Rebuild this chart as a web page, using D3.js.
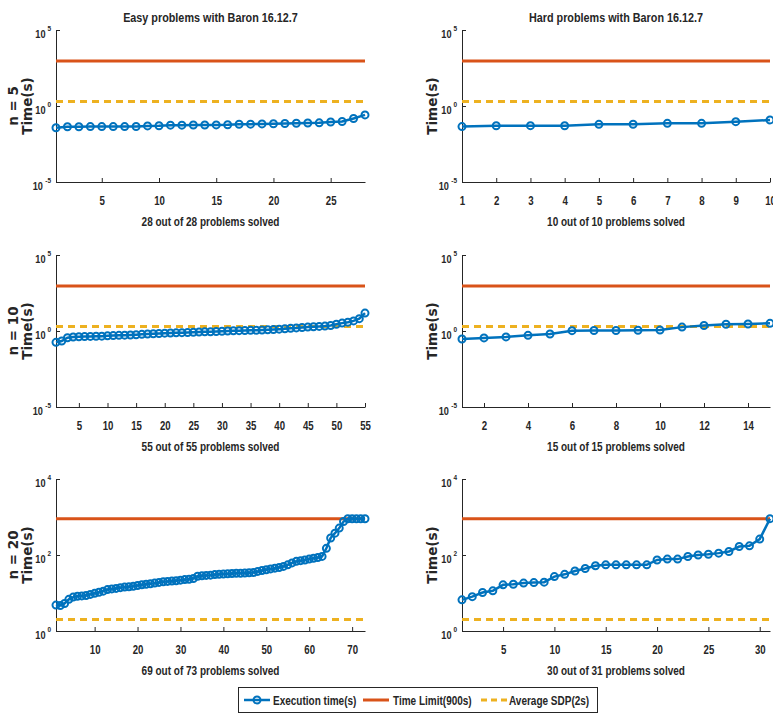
<!DOCTYPE html>
<html>
<head>
<meta charset="utf-8">
<script src="https://cdn.jsdelivr.net/npm/d3@7"></script>
<style>
  body { margin: 0; background: #fff; }
  svg { display: block; }
  .narrow { font-family: 'Liberation Sans Narrow', 'Arial Narrow', 'Liberation Sans', sans-serif; font-weight: bold; fill: #262626; }
  .ylab { font-family: 'DejaVu Sans', Verdana, sans-serif; font-weight: bold; font-size: 13.5px; fill: #262626; }
  .axis path, .axis line { stroke: #262626; stroke-width: 1; }
</style>
</head>
<body>
<div id="chart"></div>
<script>
const width = 773;
const height = 720;

// execution times in seconds
const easy5 = [0.037, 0.043, 0.043, 0.044, 0.044, 0.044, 0.044, 0.045, 0.049, 0.050,
  0.055, 0.055, 0.056, 0.056, 0.057, 0.058, 0.063, 0.064, 0.066, 0.068,
  0.070, 0.073, 0.076, 0.078, 0.088, 0.095, 0.15, 0.26];
const hard5 = [0.044, 0.050, 0.051, 0.050, 0.062, 0.063, 0.072, 0.072, 0.093, 0.12];
const easy10 = [0.18, 0.22, 0.36, 0.40, 0.42, 0.43, 0.44, 0.45, 0.46, 0.48,
  0.50, 0.52, 0.53, 0.55, 0.57, 0.60, 0.63, 0.66, 0.69, 0.72,
  0.74, 0.76, 0.78, 0.80, 0.83, 0.86, 0.88, 0.90, 0.93, 0.96,
  1.00, 1.03, 1.05, 1.07, 1.10, 1.13, 1.16, 1.20, 1.25, 1.32,
  1.40, 1.50, 1.60, 1.70, 1.80, 1.90, 2.00, 2.10, 2.30, 2.8,
  3.3, 3.8, 4.6, 6.5, 15];
const hard10 = [0.30, 0.35, 0.41, 0.52, 0.63, 1.05, 1.07, 1.08, 1.12, 1.15,
  1.8, 2.3, 2.8, 2.9, 3.2];
const easy20 = [4.8, 4.7, 5.3, 6.8, 7.8, 8.2, 8.4, 8.6, 9.2, 9.8,
  10.5, 11.2, 12.3, 12.8, 13.2, 13.8, 14.3, 14.6, 15.0, 15.8,
  16.5, 17.0, 17.5, 18.2, 19.0, 19.8, 20.2, 20.6, 21.0, 21.8,
  22.5, 23.0, 24.0, 27.5, 28.5, 29.0, 29.5, 30.5, 31.0, 31.5,
  32.0, 32.5, 33.0, 33.2, 33.5, 34.0, 34.5, 37.0, 39.0, 41.0,
  43.0, 45.0, 47.0, 50.0, 55.0, 62.0, 68.0, 71.0, 74.0, 78.0,
  82.0, 86.0, 92.0, 150, 280, 375, 510, 760, 900, 900,
  900, 900, 900];
const hard20 = [6.6, 8.0, 10.3, 11.4, 16.4, 17.0, 18.2, 18.8, 19.3, 27,
  31, 38, 44, 52, 55, 55, 55, 55, 55, 74,
  78, 78, 91, 100, 105, 112, 124, 167, 174, 262,
  900];

const timeLimit = 900;
const avgSDP = 2;

const colTitles = ['Easy problems with Baron 16.12.7', 'Hard problems with Baron 16.12.7'];
const rowLabels = ['n = 5', 'n = 10', 'n = 20'];
const solvedLabels = [
  ['28 out of 28 problems solved', '10 out of 10 problems solved'],
  ['55 out of 55 problems solved', '15 out of 15 problems solved'],
  ['69 out of 73 problems solved', '30 out of 31 problems solved']
];
const series = [[easy5, hard5], [easy10, hard10], [easy20, hard20]];
const xTicks = [
  [[5, 10, 15, 20, 25], [1, 2, 3, 4, 5, 6, 7, 8, 9, 10]],
  [[5, 10, 15, 20, 25, 30, 35, 40, 45, 50, 55], [2, 4, 6, 8, 10, 12, 14]],
  [[10, 20, 30, 40, 50, 60, 70], [5, 10, 15, 20, 25, 30]]
];
// y tick exponents per row
const yExps = [[-5, 0, 5], [-5, 0, 5], [0, 2, 4]];
const legendLabels = ['Execution time(s)', 'Time Limit(900s)', 'Average SDP(2s)'];

const blue = '#0072BD', red = '#D95319', yellow = '#EDB120';
const squeeze = 0.8;

const colX = [[56, 365], [462, 770]];
const rowY = [[30, 182], [255, 407], [479, 631]];

const svg = d3.select('#chart').append('svg')
  .attr('width', width).attr('height', height);

// no narrow font installed: squeeze the regular one to a condensed width
function narrowText(sel) {
  sel.each(function () {
    const w = this.getComputedTextLength();
    this.setAttribute('textLength', (w * squeeze).toFixed(1));
    this.setAttribute('lengthAdjust', 'spacingAndGlyphs');
  });
  return sel;
}

function drawPanel(r, c) {
  const values = series[r][c];
  const n = values.length;
  const [x0, x1] = colX[c];
  const [y0, y1] = rowY[r];
  const exps = yExps[r];

  const x = d3.scaleLinear().domain([1, n]).range([x0, x1]);
  const y = d3.scaleLog()
    .domain([Math.pow(10, exps[0]), Math.pow(10, exps[exps.length - 1])])
    .range([y1, y0]);

  const g = svg.append('g');

  // x axis, ticks pointing inward
  const xa = g.append('g').attr('class', 'axis')
    .attr('transform', `translate(0,${y1})`)
    .call(d3.axisBottom(x).tickValues(xTicks[r][c]).tickSize(-4).tickSizeOuter(0).tickPadding(14));
  xa.selectAll('.tick text').attr('class', 'narrow').style('font-size', '12px').attr('fill', '#262626');

  // y axis with 10^k labels
  const ya = g.append('g').attr('class', 'axis')
    .attr('transform', `translate(${x0},0)`)
    .call(d3.axisLeft(y).tickValues(exps.map(e => Math.pow(10, e))).tickSize(-4).tickSizeOuter(0).tickFormat(() => ''));
  ya.selectAll('.tick text').remove();
  exps.forEach(e => {
    const ty = y(Math.pow(10, e));
    const sup = g.append('text').attr('class', 'narrow')
      .attr('x', x0 - 5).attr('y', ty + 1)
      .attr('text-anchor', 'end')
      .style('font-size', '8px')
      .text(e);
    const sw = sup.node().getComputedTextLength();
    narrowText(sup);
    g.append('text').attr('class', 'narrow')
      .attr('x', x0 - 6 - sw).attr('y', ty + 8)
      .attr('text-anchor', 'end')
      .style('font-size', '11.5px')
      .text('10');
  });

  const line = d3.line().x((d, i) => x(i + 1)).y(d => y(d));

  g.append('line')
    .attr('x1', x(1)).attr('x2', x(n))
    .attr('y1', y(timeLimit)).attr('y2', y(timeLimit))
    .attr('stroke', red).attr('stroke-width', 3);
  g.append('line')
    .attr('x1', x(1)).attr('x2', x(n))
    .attr('y1', y(avgSDP)).attr('y2', y(avgSDP))
    .attr('stroke', yellow).attr('stroke-width', 3)
    .attr('stroke-dasharray', '7,5');

  g.append('path').datum(values)
    .attr('d', line)
    .attr('fill', 'none').attr('stroke', blue).attr('stroke-width', 2.5);
  g.selectAll('circle.pt').data(values).join('circle')
    .attr('class', 'pt')
    .attr('cx', (d, i) => x(i + 1)).attr('cy', d => y(d))
    .attr('r', 3.5)
    .attr('fill', 'none').attr('stroke', blue).attr('stroke-width', 2);

  const xc = (x0 + x1) / 2;
  g.append('text').attr('class', 'narrow')
    .attr('x', xc).attr('y', y1 + 44)
    .attr('text-anchor', 'middle').style('font-size', '12.5px')
    .text(solvedLabels[r][c]);

  if (r === 0) {
    g.append('text').attr('class', 'narrow')
      .attr('x', xc).attr('y', 22)
      .attr('text-anchor', 'middle').style('font-size', '13.5px')
      .text(colTitles[c]);
  }

  const yc = (y0 + y1) / 2;
  const lx = c === 0 ? 32 : 437;
  g.append('text').attr('class', 'ylab')
    .attr('transform', `translate(${lx},${yc}) rotate(-90)`)
    .attr('text-anchor', 'middle')
    .text('Time(s)');
  if (c === 0) {
    g.append('text').attr('class', 'ylab')
      .attr('transform', `translate(${lx - 14},${yc}) rotate(-90)`)
      .attr('text-anchor', 'middle')
      .text(rowLabels[r]);
  }
}

for (let r = 0; r < 3; r++) {
  for (let c = 0; c < 2; c++) drawPanel(r, c);
}

// legend
const lg = svg.append('g');
lg.append('rect')
  .attr('x', 238.5).attr('y', 687.5).attr('width', 359).attr('height', 25)
  .attr('fill', '#fff').attr('stroke', '#262626').attr('stroke-width', 1);
const ly = 700;
const items = [
  { x: 244, tx: 273, color: blue, dash: null, marker: true },
  { x: 363, tx: 393, color: red, dash: null, marker: false },
  { x: 481, tx: 509, color: yellow, dash: '6,4', marker: false }
];
items.forEach((it, i) => {
  lg.append('line')
    .attr('x1', it.x).attr('x2', it.x + 26)
    .attr('y1', ly).attr('y2', ly)
    .attr('stroke', it.color).attr('stroke-width', i === 0 ? 2.5 : 3)
    .attr('stroke-dasharray', it.dash);
  if (it.marker) {
    lg.append('circle').attr('cx', it.x + 13).attr('cy', ly).attr('r', 3.5)
      .attr('fill', 'none').attr('stroke', it.color).attr('stroke-width', 2);
  }
  lg.append('text').attr('class', 'narrow')
    .attr('x', it.tx).attr('y', ly + 4.5)
    .style('font-size', '12.5px')
    .text(legendLabels[i]);
});

narrowText(svg.selectAll('.narrow:not([textLength])'));
</script>
</body>
</html>
